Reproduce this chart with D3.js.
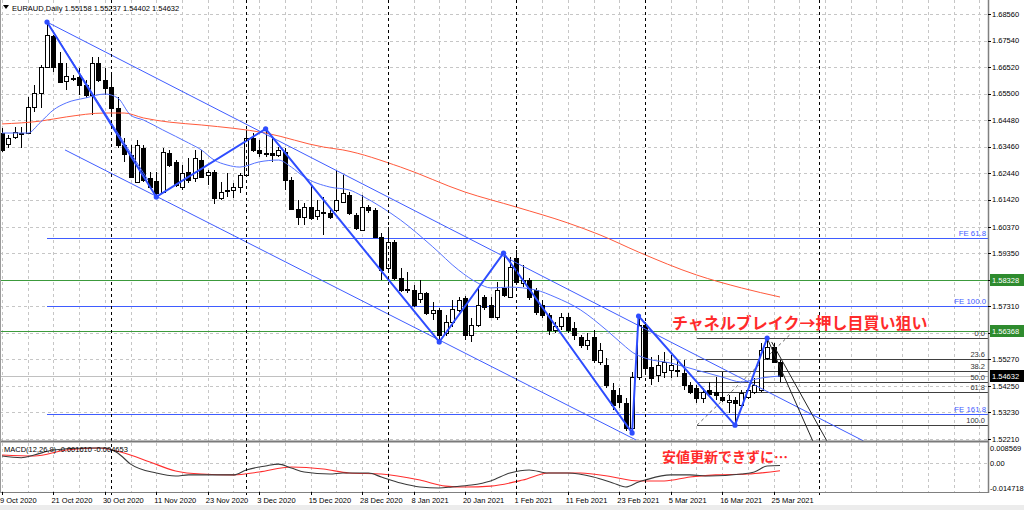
<!DOCTYPE html>
<html><head><meta charset="utf-8">
<script src="https://cdn.jsdelivr.net/npm/d3@7"></script>
<style>html,body{margin:0;padding:0;background:#fff;} svg{display:block;font-family:"Liberation Sans",Arial,sans-serif;}</style>
</head><body><svg id="c" width="1024" height="510"></svg>
<script>
// ---------------- DATA ----------------
const symbolTitle = "EURAUD,Daily  1.55158 1.55237 1.54402 1.54632";
const macdTitle = "MACD(12,26,9) -0.001610 -0.004653";

const opens = [1.6398,1.6356,1.6383,1.6398,1.6398,1.6498,1.6552,1.6652,1.6771,1.6668,
1.6598,1.6610,1.6614,1.6583,1.6544,1.6668,1.6602,1.6575,1.6494,1.6352,
1.6313,1.6210,1.6340,1.6225,1.6213,1.6171,1.6321,1.6287,1.6190,1.6248,
1.6225,1.6294,1.6237,1.6248,1.6148,1.6179,1.6179,1.6190,1.6237,1.6379,
1.6333,1.6321,1.6321,1.6313,1.6325,1.6217,1.6106,1.6075,1.6113,1.6079,
1.6094,1.6090,1.6102,1.6133,1.6160,1.6083,1.6025,1.6113,1.6102,1.5998,
1.5879,1.5979,1.5840,1.5798,1.5794,1.5759,1.5782,1.5705,1.5717,1.5629,
1.5671,1.5717,1.5763,1.5621,1.5659,1.5767,1.5736,1.5690,1.5802,1.5767,
1.5917,1.5821,1.5833,1.5794,1.5736,1.5698,1.5640,1.5655,1.5690,1.5648,
1.5613,1.5583,1.5613,1.5517,1.5505,1.5409,1.5390,1.5359,1.5263,1.5459,
1.5659,1.5498,1.5467,1.5479,1.5486,1.5486,1.5475,1.5428,1.5417,1.5378,
1.5409,1.5401,1.5382,1.5363,1.5371,1.5352,1.5382,1.5401,1.5409,1.5532,
1.5575,1.55158];
const highs = [1.6417,1.6390,1.6421,1.6421,1.6537,1.6583,1.6660,1.6825,1.6775,1.6710,
1.6668,1.6621,1.6648,1.6602,1.6691,1.6691,1.6648,1.6621,1.6537,1.6379,
1.6352,1.6371,1.6352,1.6248,1.6248,1.6340,1.6333,1.6294,1.6275,1.6302,
1.6333,1.6333,1.6256,1.6256,1.6210,1.6244,1.6206,1.6244,1.6410,1.6398,
1.6371,1.6414,1.6383,1.6344,1.6340,1.6229,1.6140,1.6129,1.6198,1.6140,
1.6152,1.6102,1.6256,1.6237,1.6171,1.6090,1.6160,1.6121,1.6110,1.6013,
1.6036,1.5986,1.5879,1.5863,1.5813,1.5833,1.5786,1.5748,1.5725,1.5698,
1.5756,1.5767,1.5771,1.5686,1.5805,1.5775,1.5767,1.5825,1.5936,1.5921,
1.5948,1.5890,1.5840,1.5802,1.5756,1.5705,1.5671,1.5705,1.5705,1.5671,
1.5621,1.5629,1.5640,1.5590,1.5532,1.5436,1.5417,1.5378,1.5479,1.5694,
1.5671,1.5536,1.5544,1.5555,1.5544,1.5525,1.5525,1.5440,1.5428,1.5417,
1.5440,1.5459,1.5479,1.5390,1.5382,1.5409,1.5421,1.5455,1.5590,1.5609,
1.5590,1.55237];
const lows = [1.6325,1.6340,1.6375,1.6340,1.6394,1.6479,1.6494,1.6648,1.6633,1.6591,
1.6564,1.6598,1.6544,1.6533,1.6467,1.6594,1.6544,1.6467,1.6340,1.6287,
1.6225,1.6206,1.6210,1.6187,1.6152,1.6167,1.6267,1.6190,1.6179,1.6206,
1.6210,1.6225,1.6198,1.6125,1.6140,1.6152,1.6148,1.6167,1.6229,1.6325,
1.6306,1.6306,1.6287,1.6306,1.6179,1.6102,1.6044,1.6044,1.6063,1.6063,
1.6006,1.6067,1.6094,1.6129,1.6083,1.6025,1.6021,1.6090,1.5994,1.5833,
1.5863,1.5833,1.5786,1.5782,1.5729,1.5744,1.5698,1.5679,1.5594,1.5617,
1.5652,1.5709,1.5602,1.5594,1.5652,1.5717,1.5686,1.5679,1.5767,1.5763,
1.5813,1.5805,1.5756,1.5698,1.5686,1.5621,1.5629,1.5640,1.5629,1.5602,
1.5571,1.5563,1.5513,1.5505,1.5417,1.5332,1.5340,1.5251,1.5244,1.5448,
1.5467,1.5428,1.5440,1.5455,1.5455,1.5459,1.5409,1.5394,1.5359,1.5359,
1.5382,1.5371,1.5363,1.5321,1.5274,1.5344,1.5375,1.5394,1.5401,1.5525,
1.5513,1.54402];
const closes = [1.6333,1.6379,1.6402,1.6394,1.6498,1.6552,1.6652,1.6775,1.6652,1.6594,
1.6617,1.6606,1.6583,1.6544,1.6668,1.6602,1.6571,1.6494,1.6352,1.6317,
1.6229,1.6352,1.6217,1.6190,1.6167,1.6325,1.6275,1.6198,1.6244,1.6217,
1.6302,1.6229,1.6248,1.6148,1.6171,1.6175,1.6190,1.6237,1.6379,1.6333,
1.6321,1.6317,1.6313,1.6333,1.6217,1.6106,1.6075,1.6113,1.6071,1.6102,
1.6090,1.6075,1.6140,1.6167,1.6090,1.6033,1.6113,1.6102,1.5998,1.5871,
1.5979,1.5840,1.5794,1.5794,1.5736,1.5782,1.5705,1.5717,1.5621,1.5671,
1.5721,1.5756,1.5621,1.5659,1.5736,1.5729,1.5690,1.5794,1.5775,1.5882,
1.5825,1.5833,1.5767,1.5709,1.5698,1.5640,1.5655,1.5690,1.5640,1.5621,
1.5583,1.5602,1.5525,1.5563,1.5428,1.5352,1.5363,1.5263,1.5459,1.5659,
1.5494,1.5455,1.5505,1.5517,1.5505,1.5482,1.5428,1.5401,1.5378,1.5401,
1.5394,1.5390,1.5371,1.5371,1.5359,1.5398,1.5409,1.5428,1.5563,1.5575,
1.5517,1.54632];

const priceTicks = [1.52210,1.53230,1.54250,1.55270,1.56290,1.57310,1.58330,1.59350,1.60370,1.61420,1.62440,1.63460,1.64480,1.65500,1.66520,1.67540,1.68560];
const dateLabels = ["9 Oct 2020","21 Oct 2020","30 Oct 2020","11 Nov 2020","23 Nov 2020","3 Dec 2020","15 Dec 2020","28 Dec 2020","8 Jan 2021","20 Jan 2021","1 Feb 2021","11 Feb 2021","23 Feb 2021","5 Mar 2021","16 Mar 2021","25 Mar 2021"];
const dateLabelBars = [0,8,16,24,32,40,48,56,64,72,80,88,96,104,112,120];
const monthSeparatorBars = [17,38,60,80,100,127];

// moving averages (bar index, price)
const maBlueBars = [0,4,6,8,10,13,16,18,20,22,25,29,31,33,35,37,40,43,45,47,51,54,56,59,62,67,71,74,76,79,83,86,90,94,97,98,100,104,108,112,115,118,121];
const maBlueVals = [1.6398,1.6398,1.6440,1.6487,1.6514,1.6533,1.6548,1.6533,1.6467,1.6448,1.6410,1.6360,1.6333,1.6294,1.6275,1.6267,1.6287,1.6294,1.6267,1.6229,1.6190,1.6179,1.6156,1.6113,1.6063,1.5960,1.5871,1.5821,1.5802,1.5805,1.5794,1.5767,1.5717,1.5640,1.5575,1.5555,1.5532,1.5513,1.5486,1.5459,1.5440,1.5455,1.5463];
const maRedBars = [0,6,10,16,19,22,26,31,41,50,53,62,72,80,88,93,99,108,115,121];
const maRedVals = [1.6433,1.6444,1.6460,1.6475,1.6475,1.6456,1.6440,1.6429,1.6398,1.6344,1.6333,1.6267,1.6171,1.6113,1.6052,1.6006,1.5940,1.5852,1.5802,1.5767];

// zigzag
const zigzagBars = [7,24,41,68,78,98,99,114,119];
const zigzagPrices = [1.6825,1.6152,1.6414,1.5594,1.5936,1.5244,1.5694,1.5274,1.5609];

// trend lines [bar1, price1, bar2, price2]
const blueTrendLines = [[7,1.6825,134,1.5213],[7,1.6825,22.7,1.6217],[9.8,1.6333,98.6,1.5217]];
const blackTrendLines = [[119,1.5609,126.1,1.5213],[119.7,1.5594,128.3,1.5213]];
const fibBaseLine = [108.1,1.5274,122.5,1.5621];

// horizontal levels
const greenLevels = [1.58328,1.56368];
const feLevels = [1.5994,1.5734,1.5317];
const feLabels = ["FE 61.8","FE 100.0","FE 161.8"];
const feStartBar = 7;
const fibHigh = 1.5609, fibLow = 1.5274, fibStartBar = 108.1;
const fibRatios = [0,23.6,38.2,50,61.8,100];
const fibLabels = ["0.0","23.6","38.2","50.0","61.8","100.0"];
const bidPrice = 1.54632;

// MACD
const macdBars = [0,3,5,8,13,16,18,20,24,27,29,33,36,38,41,43,45,47,51,53,57,59,62,65,68,70,73,76,79,82,85,88,92,95,97,99,100,104,107,110,115,117,119,121];
const macdVals = [0.0039,0.0029,0.0045,0.0074,0.0086,0.0086,0.0057,-0.0008,-0.0060,-0.0077,-0.0071,-0.0071,-0.0071,-0.0042,-0.0019,-0.0008,-0.0031,-0.0054,-0.0066,-0.0060,-0.0060,-0.0083,-0.0118,-0.0141,-0.0147,-0.0141,-0.0130,-0.0106,-0.0060,-0.0042,-0.0060,-0.0060,-0.0083,-0.0118,-0.0141,-0.0112,-0.0101,-0.0071,-0.0071,-0.0077,-0.0066,-0.0054,-0.0019,-0.0016];
const signalBars = [0,5,10,15,19,23,27,31,36,40,45,50,54,59,65,69,72,76,81,85,90,95,99,103,107,111,116,121];
const signalVals = [0.0045,0.0039,0.0074,0.0086,0.0057,0.0004,-0.0048,-0.0066,-0.0071,-0.0054,-0.0025,-0.0037,-0.0060,-0.0066,-0.0101,-0.0136,-0.0141,-0.0136,-0.0101,-0.0060,-0.0060,-0.0083,-0.0106,-0.0106,-0.0083,-0.0071,-0.0066,-0.0047];
const macdAxisLabels = ["0.008569","0.00","-0.014718"];
const macdAxisVals = [0.008569,0,-0.014718];

const note1 = "チャネルブレイク→押し目買い狙い";
const note2 = "安値更新できずに…";

// ---------------- LAYOUT ----------------
const plotRight = 988, mainBottom = 441, macdTop = 443, macdBottom = 492;
const x = d3.scaleLinear().domain([0,121]).range([2,780]);
const y = d3.scaleLinear().domain([1.5221,1.6856]).range([438.9,14]);
const ym = d3.scaleLinear().domain([-0.014718,0.008569]).range([488,448]);
const px = v => Math.round(v)+0.5;

const svg = d3.select("#c");
svg.append("rect").attr("width",1024).attr("height",510).attr("fill","#fff");
svg.append("rect").attr("x",0).attr("y",505).attr("width",1024).attr("height",5).attr("fill","#ececec");

const defs = svg.append("defs");
defs.append("clipPath").attr("id","cm").append("rect").attr("x",0).attr("y",0).attr("width",plotRight).attr("height",mainBottom);
defs.append("clipPath").attr("id","cd").append("rect").attr("x",0).attr("y",macdTop).attr("width",plotRight).attr("height",macdBottom-macdTop);

const main = svg.append("g").attr("clip-path","url(#cm)");
const sub = svg.append("g").attr("clip-path","url(#cd)");

// grid
const gridBars = d3.range(0,156,4);
[main, sub].forEach((g,i)=>{
  g.selectAll(null).data(gridBars).enter().append("line")
    .attr("x1",d=>px(x(d))).attr("x2",d=>px(x(d)))
    .attr("y1", i===0?0:macdTop).attr("y2", i===0?mainBottom:macdBottom)
    .attr("stroke","#c6c6c6").attr("stroke-dasharray","3,3");
});
main.selectAll(null).data(priceTicks).enter().append("line")
  .attr("x1",0).attr("x2",plotRight).attr("y1",d=>px(y(d))).attr("y2",d=>px(y(d)))
  .attr("stroke","#c6c6c6").attr("stroke-dasharray","3,3");
sub.append("line").attr("x1",0).attr("x2",plotRight).attr("y1",px(ym(0))).attr("y2",px(ym(0)))
  .attr("stroke","#c6c6c6").attr("stroke-dasharray","3,3");

// month separators
svg.selectAll(null).data(monthSeparatorBars).enter().append("line")
  .attr("x1",d=>px(x(d))).attr("x2",d=>px(x(d))).attr("y1",0).attr("y2",496)
  .attr("stroke","#000").attr("stroke-dasharray","3,3");

// horizontal levels
main.append("line").attr("x1",0).attr("x2",plotRight).attr("y1",px(y(bidPrice))).attr("y2",px(y(bidPrice))).attr("stroke","#c0c0c0");
main.selectAll(null).data(greenLevels).enter().append("line")
  .attr("x1",0).attr("x2",plotRight).attr("y1",d=>px(y(d))).attr("y2",d=>px(y(d)))
  .attr("stroke","#3c9a3c").attr("stroke-width",1);
main.selectAll(null).data(feLevels).enter().append("line")
  .attr("x1",x(feStartBar)).attr("x2",plotRight).attr("y1",d=>px(y(d))).attr("y2",d=>px(y(d)))
  .attr("stroke","#3f5cff").attr("stroke-width",1.2);
main.selectAll(null).data(feLevels).enter().append("text")
  .attr("x",986).attr("y",d=>y(d)-2).attr("text-anchor","end")
  .attr("font-size",7.8).attr("fill","#3f5cff").text((d,i)=>feLabels[i]);

const fibPrice = r => fibHigh - (fibHigh-fibLow)*r/100;
main.selectAll(null).data(fibRatios).enter().append("line")
  .attr("x1",x(fibStartBar)).attr("x2",plotRight).attr("y1",d=>px(y(fibPrice(d)))).attr("y2",d=>px(y(fibPrice(d))))
  .attr("stroke","#404040").attr("stroke-width",1);
main.selectAll(null).data(fibRatios).enter().append("text")
  .attr("x",985).attr("y",d=>y(fibPrice(d))-2).attr("text-anchor","end")
  .attr("font-size",7.5).attr("fill","#333").text((d,i)=>fibLabels[i]);
main.append("line")
  .attr("x1",x(fibBaseLine[0])).attr("y1",y(fibBaseLine[1])).attr("x2",x(fibBaseLine[2])).attr("y2",y(fibBaseLine[3]))
  .attr("stroke","#666").attr("stroke-dasharray","3,3");

// candles
const idx = d3.range(opens.length);
const cg = main.append("g");
cg.selectAll(null).data(idx).enter().append("line")
  .attr("x1",i=>px(x(i))).attr("x2",i=>px(x(i)))
  .attr("y1",i=>Math.round(y(highs[i]))).attr("y2",i=>Math.round(y(lows[i])))
  .attr("stroke","#000").attr("shape-rendering","crispEdges");
cg.selectAll(null).data(idx).enter().append("rect")
  .attr("x",i=>Math.round(x(i))-1.5)
  .attr("y",i=>Math.round(y(Math.max(opens[i],closes[i])))+0.5)
  .attr("width",4)
  .attr("height",i=>Math.max(0.01,Math.round(Math.abs(y(opens[i])-y(closes[i])))))
  .attr("fill",i=>closes[i]>=opens[i]?"#fff":"#000")
  .attr("stroke","#000").attr("stroke-width",1);

// moving averages
const lineK = d3.line().x(d=>x(d[0])).y(d=>y(d[1])).curve(d3.curveMonotoneX);
main.append("path").attr("d",lineK(maRedBars.map((b,i)=>[b,maRedVals[i]])))
  .attr("fill","none").attr("stroke","#ff5a3c").attr("stroke-width",1);
main.append("path").attr("d",lineK(maBlueBars.map((b,i)=>[b,maBlueVals[i]])))
  .attr("fill","none").attr("stroke","#5572ff").attr("stroke-width",1);

// trend lines
main.selectAll(null).data(blueTrendLines).enter().append("line")
  .attr("x1",d=>x(d[0])).attr("y1",d=>y(d[1])).attr("x2",d=>x(d[2])).attr("y2",d=>y(d[3]))
  .attr("stroke","#3f5cff").attr("stroke-width",1);
main.selectAll(null).data(blackTrendLines).enter().append("line")
  .attr("x1",d=>x(d[0])).attr("y1",d=>y(d[1])).attr("x2",d=>x(d[2])).attr("y2",d=>y(d[3]))
  .attr("stroke","#222").attr("stroke-width",1);

// zigzag
const zz = zigzagBars.map((b,i)=>[b,zigzagPrices[i]]);
main.append("path").attr("d",d3.line().x(d=>x(d[0])).y(d=>y(d[1]))(zz))
  .attr("fill","none").attr("stroke","#2e4dff").attr("stroke-width",2);
main.selectAll(null).data(zz).enter().append("circle")
  .attr("cx",d=>x(d[0])).attr("cy",d=>y(d[1])).attr("r",2.6).attr("fill","#2e4dff");

// MACD lines
const lineM = d3.line().x(d=>x(d[0])).y(d=>ym(d[1])).curve(d3.curveMonotoneX);
sub.append("path").attr("d",lineM(signalBars.map((b,i)=>[b,signalVals[i]])))
  .attr("fill","none").attr("stroke","#ff2e2e").attr("stroke-width",1.1);
sub.append("path").attr("d",lineM(macdBars.map((b,i)=>[b,macdVals[i]])))
  .attr("fill","none").attr("stroke","#3a3a3a").attr("stroke-width",1.1);

// panel frames
svg.append("line").attr("x1",0).attr("x2",plotRight).attr("y1",441.5).attr("y2",441.5).attr("stroke","#7a7a7a").attr("stroke-width",2);
svg.append("line").attr("x1",0).attr("x2",plotRight+1).attr("y1",492.5).attr("y2",492.5).attr("stroke","#808080");
svg.append("line").attr("x1",plotRight+0.5).attr("x2",plotRight+0.5).attr("y1",0).attr("y2",493).attr("stroke","#808080").attr("stroke-width",1.5);
svg.append("line").attr("x1",0.5).attr("x2",0.5).attr("y1",0).attr("y2",493).attr("stroke","#999");

// price axis (tick labels hidden under the level boxes are skipped)
const boxPrices = greenLevels.concat([bidPrice]);
const visibleTicks = priceTicks.filter(t => boxPrices.every(b => Math.abs(y(t)-y(b)) > 7));
const ax = svg.append("g").attr("font-size",7.5).attr("fill","#000");
ax.selectAll(null).data(priceTicks).enter().append("line")
  .attr("x1",plotRight).attr("x2",plotRight+3).attr("y1",d=>px(y(d))).attr("y2",d=>px(y(d))).attr("stroke","#000");
ax.selectAll(null).data(visibleTicks).enter().append("text")
  .attr("x",992).attr("y",d=>y(d)+2.8).text(d=>d.toFixed(5));
ax.selectAll(null).data(macdAxisVals).enter().append("text")
  .attr("x",990).attr("y",d=>ym(d)+2.8).text((d,i)=>macdAxisLabels[i]);

function priceBox(v, bg){
  const g = svg.append("g");
  g.append("rect").attr("x",990).attr("y",Math.round(y(v))-6).attr("width",34).attr("height",12).attr("fill",bg);
  g.append("text").attr("x",992).attr("y",y(v)+2.8).attr("font-size",7.5).attr("fill","#fff").text(v.toFixed(5));
}
greenLevels.forEach(v=>priceBox(v,"#2e8b2e"));
priceBox(bidPrice,"#000");

// date axis
svg.selectAll(null).data(dateLabelBars).enter().append("line")
  .attr("x1",d=>px(x(d))).attr("x2",d=>px(x(d))).attr("y1",492).attr("y2",495).attr("stroke","#000");
svg.selectAll(null).data(dateLabelBars).enter().append("text")
  .attr("x",d=>Math.max(0,x(d)-2)).attr("y",503).attr("font-size",7.5).attr("fill","#000")
  .text((d,i)=>dateLabels[i]);

// titles
svg.append("path").attr("d","M3,5 L9,5 L6,9 Z").attr("fill","#000");
svg.append("text").attr("x",12).attr("y",11).attr("font-size",7.5).attr("fill","#000").text(symbolTitle);
svg.append("text").attr("x",4).attr("y",452).attr("font-size",7.5).attr("fill","#000").text(macdTitle);

// annotations
svg.append("text").attr("x",672).attr("y",329).attr("font-family","'Noto Sans CJK JP',sans-serif")
  .attr("font-weight",700).attr("font-size",16).attr("fill","#ff2b2b").text(note1);
svg.append("text").attr("x",662).attr("y",462).attr("font-family","'Noto Sans CJK JP',sans-serif")
  .attr("font-weight",700).attr("font-size",14).attr("fill","#ff2b2b").text(note2);
</script>
</body></html>
